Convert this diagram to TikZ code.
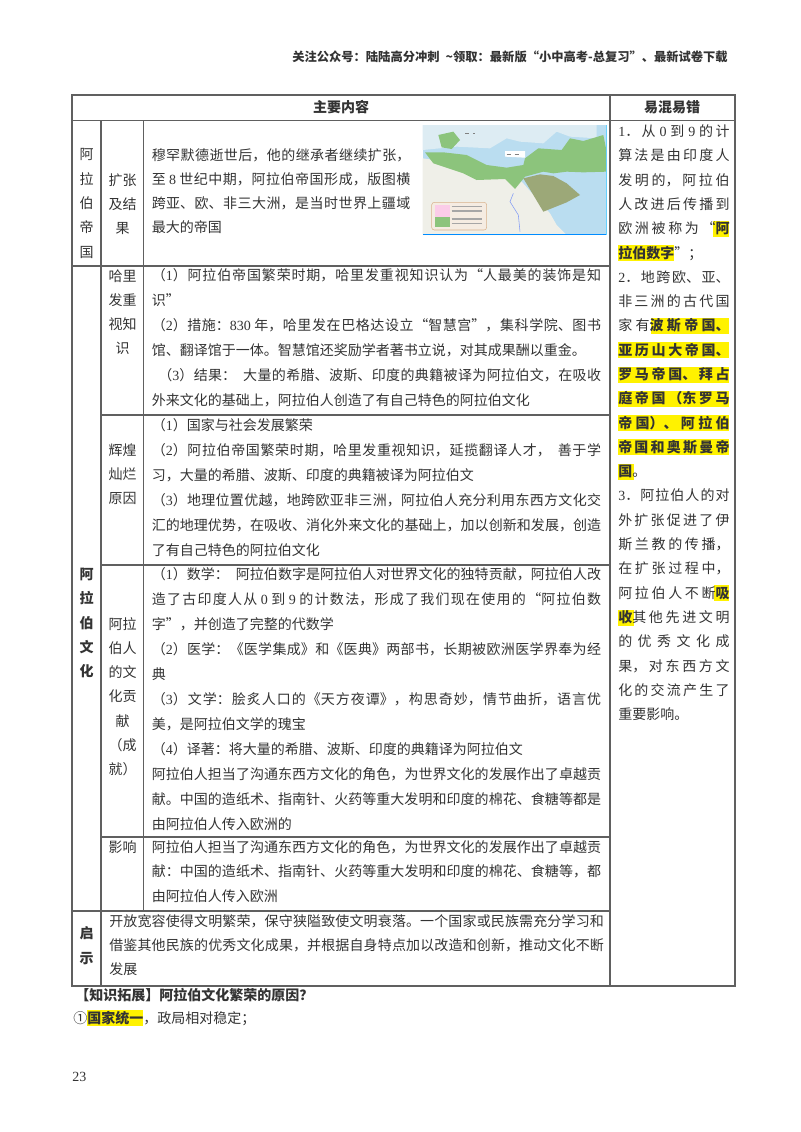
\documentclass[tikz,border=0pt]{standalone}
\usepackage{fontspec}
\setmainfont{Noto Sans CJK SC}
\newfontfamily\latinf{Liberation Serif}
\usepackage{xcolor}
\definecolor{rulegray}{HTML}{606060}
\definecolor{inkgray}{HTML}{333333}
\definecolor{seablue}{HTML}{BADDF0}
\definecolor{paleland}{HTML}{DDECF3}
\definecolor{landwhite}{HTML}{EFEFE8}
\definecolor{mapgreen}{HTML}{8CC47C}
\definecolor{mapbrown}{HTML}{9CA878}
\XeTeXlinebreaklocale "zh"
\XeTeXlinebreakskip=0pt plus 4pt minus .3pt
\tolerance=10000
\hbadness=10000
\newcommand{\nm}[1]{{\latinf #1}}
\newcommand{\shortline}{\hfill\mbox{}\linebreak}
\tikzset{
	rule/.style={draw=rulegray,line width=.8pt},
	hilite/.style={fill=yellow},
	cell/.style={anchor=north west,inner sep=0pt,text=inkgray,align=justify,font=\fontsize{10.5}{18.75}\selectfont},
	lab/.style={anchor=north,inner sep=0pt,text=inkgray,align=center,font=\fontsize{10.5}{18.2}\selectfont},
	plain/.style={anchor=west,inner sep=0pt,text=inkgray,font=\fontsize{10.5}{12}\selectfont}
}
\begin{document}
\begin{tikzpicture}[x=.75pt,y=-.75pt]
	\useasboundingbox (0,0) rectangle (800,1132);

	% highlights, under the text
	\foreach \i/\xa/\xb in {4/713/729,5/618/674,8/651/729,9/618/729,10/618/729,11/618/729,12/618/729,13/618/729,14/618/634,19/714/729,20/618/634}
		\fill[hilite] (\xa,{123.5+24.3*\i}) rectangle (\xb,{139.5+24.3*\i});
	\fill[hilite] (87,1010) rectangle (143,1026);

	% map
	\begin{scope}[shift={(410,115)},x=.25pt,y=-.25pt]
		\fill[seablue] (38,30) rectangle (592,360);
		\fill[paleland] (38,30) -- (560,30) -- (560,70) -- (480,65) -- (440,50) -- (400,85) -- (330,80) -- (290,70) -- (240,100) -- (140,95) -- (38,105) -- cycle;
		\fill[landwhite] (38,130) -- (180,150) -- (300,180) -- (335,200) -- (420,295) -- (440,330) -- (470,360) -- (38,360) -- cycle;
		\fill[seablue] (430,60) .. controls (460,70) and (455,100) .. (440,105) .. controls (425,95) and (420,75) .. (430,60);
		\fill[mapgreen] (85,60) -- (130,50) -- (150,75) -- (125,102) -- (95,97) -- cycle;
		\fill[mapgreen] (45,112) -- (100,112) -- (170,120) -- (230,150) -- (290,158) -- (340,150) -- (345,130) -- (385,100) -- (455,105) -- (480,70) -- (520,78) -- (580,60) -- (590,110) -- (590,170) -- (520,172) -- (470,170) -- (430,175) -- (400,170) -- (345,185) -- (315,222) -- (285,192) -- (200,195) -- (160,175) -- (70,145) -- cycle;
		\fill[mapbrown] (340,190) -- (390,178) -- (430,183) -- (470,205) -- (510,240) -- (470,262) -- (400,290) -- (370,240) -- cycle;
		\fill[white] (285,108) -- (345,108) -- (345,128) -- (285,125) -- cycle;
		\draw[gray,line width=.6pt,dashed] (290,118) -- (335,118);
		\draw[gray,line width=.6pt,dashed] (165,55) -- (195,55);
		\draw[seablue!70!blue,line width=.4pt] (310,235) -- (300,260) -- (325,300) -- (330,350);
		\fill[rounded corners=2pt,fill=white!85!brown,draw=brown!60] (65,262) rectangle (230,345);
		\fill[magenta!20] (75,270) rectangle (120,305);
		\fill[mapgreen] (75,306) rectangle (120,335);
		\foreach \yy in {275,288,312,325}
			\draw[gray!70,line width=.8pt] (125,\yy) -- (215,\yy);
		\fill[blue!45!cyan] (38,356) rectangle (592,360);
		\fill[blue!30!cyan!60] (588,30) rectangle (592,360);
	\end{scope}

	% table rules
	\draw[rule] (72,95) rectangle (735,986);
	\draw[rule] (72,120.5) -- (735,120.5);
	\draw[rule] (610,95) -- (610,986);
	\draw[rule] (101,120.5) -- (101,986);
	\draw[rule] (143.5,120.5) -- (143.5,911);
	\draw[rule] (72,266) -- (610,266);
	\draw[rule] (101,415) -- (610,415);
	\draw[rule] (101,565) -- (610,565);
	\draw[rule] (101,837) -- (610,837);
	\draw[rule] (72,911) -- (610,911);

	\node[plain,anchor=east,font=\fontsize{9.2}{12}\selectfont\bfseries] (topline) at (728,57) {关注公众号：陆陆高分冲刺\hspace{.5em}\textasciitilde 领取：最新版“小中高考-总复习”、最新试卷下载};

	\node[plain,anchor=center,font=\fontsize{10.5}{12}\selectfont\bfseries] (headmain) at (341,107) {主要内容};
	\node[plain,anchor=center,font=\fontsize{10.5}{12}\selectfont\bfseries] (headerr) at (672,107) {易混易错};

	\node[lab] (empire) at (86.5,148.5) {阿\\拉\\伯\\帝\\国};
	\node[lab] (expand) at (122.5,173) {扩张\\及结\\果};
	\node[lab] (harun) at (122.5,269) {哈里\\发重\\视知\\识};
	\node[lab] (reason) at (122.5,443) {辉煌\\灿烂\\原因};
	\node[lab] (contrib) at (122.5,617) {阿拉\\伯人\\的文\\化贡\\献\\（成\\就）};
	\node[lab] (effect) at (122.5,840) {影响};
	\node[lab,font=\fontsize{10.5}{18.2}\selectfont\bfseries] (culture) at (86.5,568) {阿\\拉\\伯\\文\\化};
	\node[lab,font=\fontsize{10.5}{18.75}\selectfont\bfseries] (lesson) at (86.5,926) {启\\示};

	\node[cell,text width=194pt,font=\fontsize{10.5}{18.2}\selectfont] (expandtxt) at (151.5,148) {穆罕默德逝世后，他的继承者继续扩张，\linebreak
	至 \nm{8} 世纪中期，阿拉伯帝国形成，版图横\linebreak
	跨亚、欧、非三大洲，是当时世界上疆域\linebreak
	最大的帝国};

	\node[cell,text width=337pt] (haruntxt) at (151.5,268) {（\nm{1}）阿拉伯帝国繁荣时期，哈里发重视知识认为“人最美的装饰是知\linebreak
	识”\shortline
	（\nm{2}）措施：\nm{830} 年，哈里发在巴格达设立“智慧宫”，集科学院、图书\linebreak
	馆、翻译馆于一体。智慧馆还奖励学者著书立说，对其成果酬以重金。\shortline
	\hspace*{5pt}（\nm{3}）结果：\hspace{.5em}大量的希腊、波斯、印度的典籍被译为阿拉伯文，在吸收\linebreak
	外来文化的基础上，阿拉伯人创造了有自己特色的阿拉伯文化};

	\node[cell,text width=337pt] (reasontxt) at (151.5,418) {（\nm{1}）国家与社会发展繁荣\shortline
	（\nm{2}）阿拉伯帝国繁荣时期，哈里发重视知识，延揽翻译人才，\hspace{.5em}善于学\linebreak
	习，大量的希腊、波斯、印度的典籍被译为阿拉伯文\shortline
	（\nm{3}）地理位置优越，地跨欧亚非三洲，阿拉伯人充分利用东西方文化交\linebreak
	汇的地理优势，在吸收、消化外来文化的基础上，加以创新和发展，创造\linebreak
	了有自己特色的阿拉伯文化};

	\node[cell,text width=337pt] (contribtxt) at (151.5,567.5) {（\nm{1}）数学：\hspace{.5em}阿拉伯数字是阿拉伯人对世界文化的独特贡献，阿拉伯人改\linebreak
	造了古印度人从 \nm{0} 到 \nm{9} 的计数法，形成了我们现在使用的“阿拉伯数\linebreak
	字”，并创造了完整的代数学\shortline
	（\nm{2}）医学：《医学集成》和《医典》两部书，长期被欧洲医学界奉为经\linebreak
	典\shortline
	（\nm{3}）文学：脍炙人口的《天方夜谭》，构思奇妙，情节曲折，语言优\linebreak
	美，是阿拉伯文学的瑰宝\shortline
	（\nm{4}）译著：将大量的希腊、波斯、印度的典籍译为阿拉伯文\shortline
	阿拉伯人担当了沟通东西方文化的角色，为世界文化的发展作出了卓越贡\linebreak
	献。中国的造纸术、指南针、火药等重大发明和印度的棉花、食糖等都是\linebreak
	由阿拉伯人传入欧洲的};

	\node[cell,text width=337pt,font=\fontsize{10.5}{18.5}\selectfont] (effecttxt) at (151.5,840) {阿拉伯人担当了沟通东西方文化的角色，为世界文化的发展作出了卓越贡\linebreak
	献：中国的造纸术、指南针、火药等重大发明和印度的棉花、食糖等，都\linebreak
	由阿拉伯人传入欧洲};

	\node[cell,text width=371pt,font=\fontsize{10.5}{18}\selectfont] (lessontxt) at (109,914) {开放宽容使得文明繁荣，保守狭隘致使文明衰落。一个国家或民族需充分学习和\linebreak
	借鉴其他民族的优秀文化成果，并根据自身特点加以改造和创新，推动文化不断\linebreak
	发展};

	\node[cell,text width=83.5pt,font=\fontsize{10.5}{18.22}\selectfont] (errtxt) at (618,124.5) {\nm{1}．从 \nm{0} 到 \nm{9} 的计\linebreak
	算法是由印度人\linebreak
	发明的，阿拉伯\linebreak
	人改进后传播到\linebreak
	欧洲被称为“\textbf{阿}\linebreak
	\textbf{拉伯数字}”；\shortline
	\nm{2}．地跨欧、亚、\linebreak
	非三洲的古代国\linebreak
	家有\textbf{波斯帝国、}\linebreak
	\textbf{亚历山大帝国、}\linebreak
	\textbf{罗马帝国、拜占}\linebreak
	\textbf{庭帝国（东罗马}\linebreak
	\textbf{帝国）、阿拉伯}\linebreak
	\textbf{帝国和奥斯曼帝}\linebreak
	\textbf{国}。\shortline
	\nm{3}．阿拉伯人的对\linebreak
	外扩张促进了伊\linebreak
	斯兰教的传播，\linebreak
	在扩张过程中，\linebreak
	阿拉伯人不断\textbf{吸}\linebreak
	\textbf{收}其他先进文明\linebreak
	的优秀文化成\linebreak
	果，对东西方文\linebreak
	化的交流产生了\linebreak
	重要影响。};

	\node[plain,font=\fontsize{10.5}{12}\selectfont\bfseries] (extra) at (75,995) {【知识拓展】阿拉伯文化繁荣的原因？};
	\node[plain] (unify) at (73,1018.5) {①\textbf{国家统一}，政局相对稳定；};
	\node[plain,font=\fontsize{10.5}{12}\selectfont\latinf] (pagenum) at (72,1077) {23};
\end{tikzpicture}
\end{document}
